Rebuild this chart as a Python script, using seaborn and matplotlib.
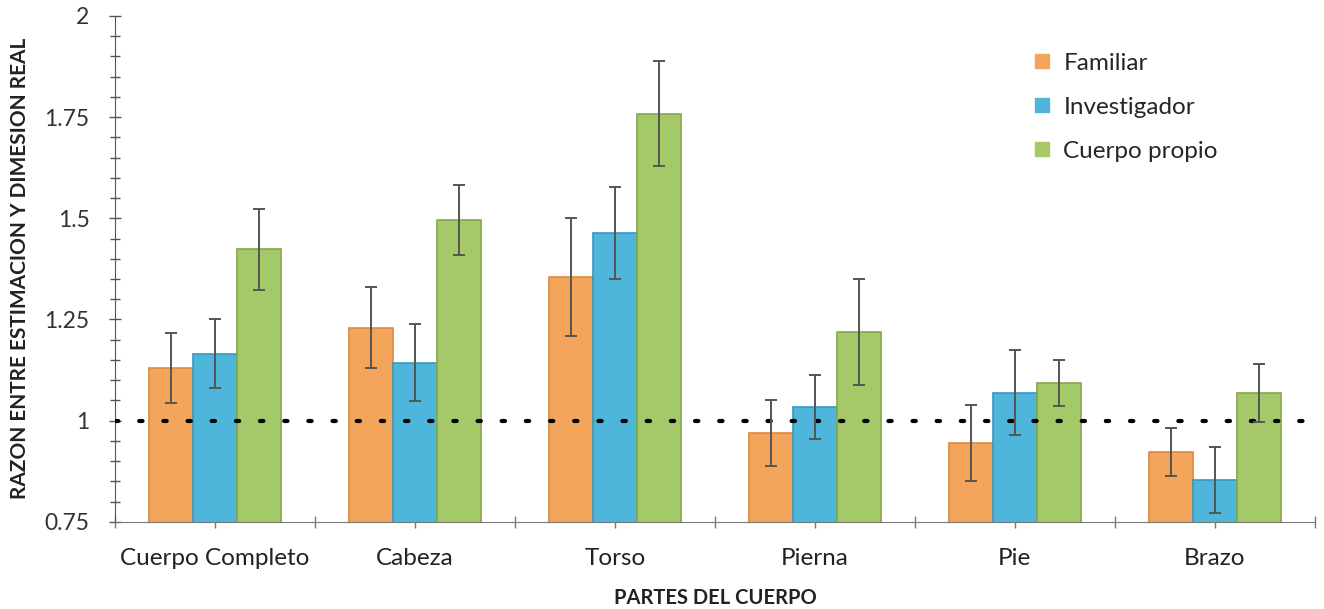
import numpy as np
import pandas as pd
import matplotlib
matplotlib.use("Agg")
import matplotlib.pyplot as plt
from matplotlib.ticker import MultipleLocator, FixedLocator
import seaborn as sns

# datos
partes = ['Cuerpo Completo', 'Cabeza', 'Torso', 'Pierna', 'Pie', 'Brazo']
grupos = ['Familiar', 'Investigador', 'Cuerpo propio']
familiar = [1.13, 1.23, 1.355, 0.97, 0.945, 0.923]
investigador = [1.165, 1.143, 1.464, 1.034, 1.069, 0.854]
propio = [1.424, 1.496, 1.758, 1.219, 1.093, 1.069]
err_familiar = [0.086, 0.10, 0.145, 0.081, 0.095, 0.06]
err_investigador = [0.085, 0.095, 0.113, 0.08, 0.105, 0.082]
err_propio = [0.10, 0.086, 0.13, 0.13, 0.056, 0.072]

colores = ['#F4A55C', '#4DB6DA', '#A5C868']
bordes = ['#D98A40', '#3A98BD', '#86A84E']

df = pd.DataFrame({
    'parte': partes * 3,
    'grupo': np.repeat(grupos, len(partes)),
    'razon': familiar + investigador + propio,
})
errores = [err_familiar, err_investigador, err_propio]

sns.set_style('ticks')
plt.rcParams['font.family'] = ['Lato', 'DejaVu Sans']

fig, ax = plt.subplots(figsize=(13.24, 6.09), dpi=100)
fig.subplots_adjust(left=0.087, right=0.993, bottom=0.143, top=0.974)

sns.barplot(data=df, x='parte', y='razon', hue='grupo', order=partes,
            hue_order=grupos, palette=colores, width=0.66, errorbar=None,
            saturation=1, ax=ax, linewidth=1.2)

for cont, borde, err in zip(ax.containers, bordes, errores):
    xs = []
    ys = []
    for bar in cont:
        bar.set_edgecolor(borde)
        xs.append(bar.get_x() + bar.get_width() / 2)
        ys.append(bar.get_height())
    ax.errorbar(xs, ys, yerr=err, fmt='none', ecolor='#555555',
                elinewidth=1.4, capsize=4, capthick=1.4, zorder=5)

# linea de referencia en 1
ax.axhline(1, color='black', linestyle=(0, (0.8, 5)), linewidth=3,
           dash_capstyle='round', zorder=4)

ax.set_ylim(0.75, 2)
ax.set_xlim(-0.5, len(partes) - 0.5)
ax.set_yticks([0.75, 1, 1.25, 1.5, 1.75, 2])
ax.set_yticklabels(['0.75', '1', '1.25', '1.5', '1.75', '2'])
ax.yaxis.set_minor_locator(MultipleLocator(0.05))
ax.xaxis.set_minor_locator(FixedLocator(np.arange(-0.5, len(partes), 1.0)))

ax.tick_params(axis='y', which='both', direction='inout', length=9,
               width=1, color='#555555', labelsize=16.5, labelcolor='#333333',
               pad=14)
ax.tick_params(axis='y', which='minor', length=7)
ax.tick_params(axis='x', which='both', direction='inout', length=9,
               width=1, color='#777777', labelsize=17.5, labelcolor='#222222',
               pad=14)

for lado in ['top', 'right']:
    ax.spines[lado].set_visible(False)
ax.spines['left'].set_color('#555555')
ax.spines['bottom'].set_color('#777777')

ax.set_xlabel('PARTES DEL CUERPO', fontsize=14.5, fontweight='bold',
              color='#222222', labelpad=14)
ax.set_ylabel('RAZON ENTRE ESTIMACION Y DIMESION REAL', fontsize=15,
              fontweight='bold', color='#222222', labelpad=10)

ax.legend(title=None, frameon=False, loc='upper left',
          bbox_to_anchor=(0.748, 0.97), fontsize=17.5, handlelength=0.7,
          handleheight=0.7, labelspacing=0.95, handletextpad=0.5)

plt.savefig('out.png', dpi=100)
